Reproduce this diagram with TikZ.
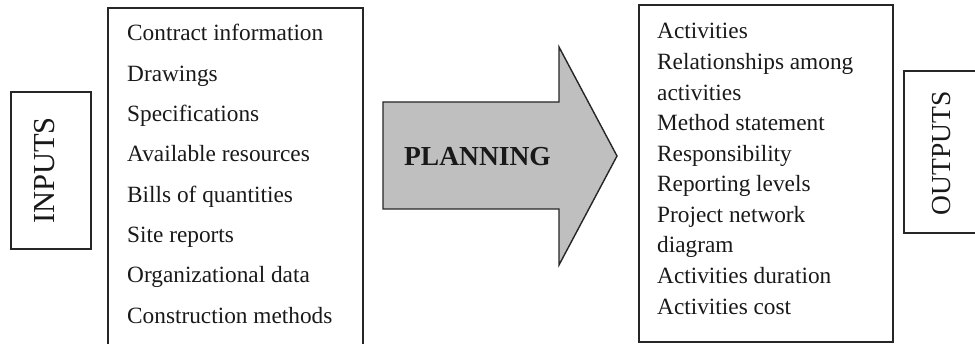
\documentclass[tikz,border=0pt]{standalone}
\usepackage{fontspec}
\setmainfont{Liberation Serif}
\begin{document}
\begin{tikzpicture}[x=1pt,y=1pt,
  frame/.style={draw=black!85,line width=1.4pt},
  item/.style={anchor=base west,inner sep=0pt,font=\fontsize{23.3}{26}\selectfont,text=black!90},
  side/.style={inner sep=0pt,rotate=90,text=black!90}]
\useasboundingbox (0,0) rectangle (975,344);
\clip (0,0) rectangle (975,344);
% INPUTS box
\draw[frame] (11,95) rectangle (91,252);
\node[side,font=\fontsize{30.5}{33}\selectfont] (inputs) at (45,173.5) {INPUTS};
% input list box
\draw[frame] (108,-5) rectangle (363,336);
\foreach \t [count=\i from 0] in {Contract information,Drawings,Specifications,Available resources,Bills of quantities,Site reports,Organizational data,Construction methods}
  \node[item] (in\i) at (127,{344-40.7-40.33*\i}) {\t};
% arrow
\draw[line width=1.4pt,draw=black!85,fill=black!25] (383,242) -- (559,242) -- (559,297) -- (617,188) -- (559,79) -- (559,135) -- (383,135) -- cycle;
\node[font=\fontsize{27.5}{30}\selectfont\bfseries,text=black!90] (plan) at (477.5,187) {PLANNING};
% output list box
\draw[frame] (639,2) rectangle (893,339);
\foreach \t [count=\i from 0] in {Activities,Relationships among,activities,Method statement,Responsibility,Reporting levels,Project network,diagram,Activities duration,Activities cost}
  \node[item] (out\i) at (657,{344-39-30.56*\i}) {\t};
% OUTPUTS box
\draw[frame] (904,111) rectangle (985,273);
\node[side,font=\fontsize{27.5}{30}\selectfont] (outputs) at (942,190.5) {OUTPUTS};
\end{tikzpicture}
\end{document}
